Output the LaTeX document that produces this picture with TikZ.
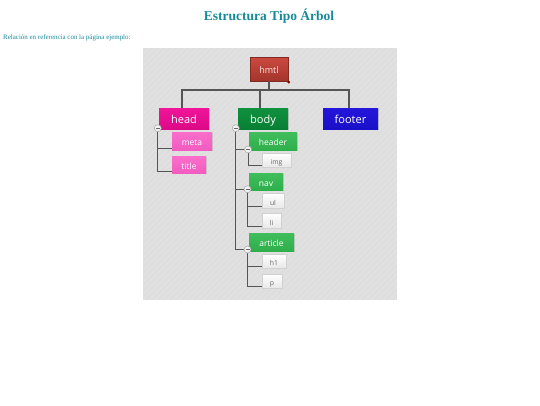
\documentclass[tikz,border=0pt]{standalone}
\usepackage{fontspec}
\setmainfont{Liberation Serif}
\newfontfamily\nodefont{Open Sans}
\usetikzlibrary{shadows}
\definecolor{teal1}{HTML}{178A98}
\definecolor{panel}{HTML}{DEDEDE}
\definecolor{linec}{HTML}{555555}
\definecolor{rootT}{HTML}{CC4A40}
\definecolor{rootB}{HTML}{A2342C}
\definecolor{headT}{HTML}{F0149A}
\definecolor{headB}{HTML}{DC0A86}
\definecolor{bodyT}{HTML}{10913E}
\definecolor{bodyB}{HTML}{087F34}
\definecolor{footT}{HTML}{2416DA}
\definecolor{footB}{HTML}{1A0FC8}
\definecolor{pinkT}{HTML}{FA6ECB}
\definecolor{pinkB}{HTML}{F25CC0}
\definecolor{grnT}{HTML}{40BE5C}
\definecolor{grnB}{HTML}{2FAE4C}
\tikzset{
  box/.style={rectangle, inner sep=0pt, font=\nodefont, text=white, text height=0.98em, text depth=0pt,
     drop shadow={shadow xshift=0.8pt, shadow yshift=-0.8pt, opacity=0.25}},
  rootbox/.style={box, draw=rootB!80!black, top color=rootT, bottom color=rootB, text=white!90!red, font=\nodefont\fontsize{9}{10}\selectfont},
  topbox/.style={box, font=\nodefont\fontsize{11}{13}\selectfont},
  midbox/.style={box, font=\nodefont\fontsize{8.5}{10}\selectfont},
  leafbox/.style={box, draw=black!18, top color=white, bottom color=black!9, text=black!60, font=\nodefont\fontsize{6.8}{8}\selectfont},
  conn/.style={draw=linec, line width=1.1pt},
  toggle/.style={circle, draw=black!35, fill=black!5, minimum size=7pt, inner sep=0pt, line width=0.5pt,
     path picture={\draw[black!60, line width=0.7pt] ([xshift=-2pt]path picture bounding box.center) -- ([xshift=2pt]path picture bounding box.center);}},
}
\begin{document}
\begin{tikzpicture}[x=1pt,y=-1pt]
\useasboundingbox (0,0) rectangle (540,405);
\fill[white] (0,0) rectangle (540,405);
% title texts
\node[font=\bfseries\fontsize{13.5}{16}\selectfont, text=teal1] (ttl) at (269,16.5) {Estructura Tipo Árbol};
\node[font=\fontsize{6.95}{8}\selectfont, text=teal1, anchor=west, inner sep=0pt] (sub) at (3,37.5) {Relación en referencia con la página ejemplo:};
% panel
\fill[panel] (143,48) rectangle (397,300);
\begin{scope}
\clip (143,48) rectangle (397,300);
\foreach \i in {0,6,...,520} {
  \draw[white, opacity=0.25, line width=0.4pt] (143+\i,48) -- (143+\i-260,308);
}
\end{scope}
% nodes
\node[rootbox, minimum width=38pt, minimum height=24pt] (hmtl) at (269,69) {hmtl};
\node[topbox, top color=headT, bottom color=headB, minimum width=50pt, minimum height=21pt] (head) at (184,118.5) {head};
\node[topbox, top color=bodyT, bottom color=bodyB, minimum width=50pt, minimum height=21pt] (body) at (263,118.5) {body};
\node[topbox, top color=footT, bottom color=footB, minimum width=55pt, minimum height=21pt] (footer) at (350.5,118.5) {footer};
\node[midbox, top color=pinkT, bottom color=pinkB, minimum width=40pt, minimum height=18pt] (meta) at (192,141) {meta};
\node[midbox, top color=pinkT, bottom color=pinkB, minimum width=34pt, minimum height=17pt] (title) at (189,164.5) {title};
\node[midbox, top color=grnT, bottom color=grnB, minimum width=48pt, minimum height=18pt] (header) at (273,141) {header};
\node[leafbox, minimum width=29pt, minimum height=14pt] (img) at (276.5,160) {img};
\node[midbox, top color=grnT, bottom color=grnB, minimum width=34pt, minimum height=17pt] (nav) at (266,181.5) {nav};
\node[leafbox, minimum width=22pt, minimum height=15pt] (ul) at (273,200.5) {ul};
\node[leafbox, minimum width=19pt, minimum height=15pt] (li) at (271.5,220.5) {li};
\node[midbox, top color=grnT, bottom color=grnB, minimum width=45pt, minimum height=18pt] (article) at (271.5,242) {article};
\node[leafbox, minimum width=24pt, minimum height=14pt] (h1) at (274,261) {h1};
\node[leafbox, minimum width=20pt, minimum height=14pt] (p) at (272,281) {p};
% root connectors
\coordinate (barY) at (0,90);
\draw[conn] (hmtl.south) -- (hmtl.south |- barY);
\draw[conn] ([xshift=-2pt]head.north) |- ([xshift=-1.5pt]footer.north |- barY) -- ([xshift=-1.5pt]footer.north);
\draw[conn] ([xshift=-3pt]body.north) -- ([xshift=-3pt]body.north |- barY);
\fill[red!50!black] ([xshift=0.5pt,yshift=-1pt]hmtl.south east) circle (1.5pt);
% toggles positions
\coordinate (tHead) at ([xshift=-1pt,yshift=1pt]head.south west);
\coordinate (tBody) at ([xshift=-2pt,yshift=1pt]body.south west);
\coordinate (tHeader) at ([xshift=-0.7pt,yshift=0.7pt]header.south west);
\coordinate (tNav) at ([xshift=-1.3pt,yshift=1pt]nav.south west);
\coordinate (tArticle) at ([xshift=-1.3pt,yshift=1.7pt]article.south west);
% child connectors
\draw[conn] (tHead) |- ([yshift=1.3pt]meta.south west);
\draw[conn] (tHead) |- ([yshift=1.3pt]title.south west);
\draw[conn] (tBody) |- ([yshift=0.7pt]header.south west);
\draw[conn] (tBody) |- ([yshift=1pt]nav.south west);
\draw[conn] (tBody) |- ([yshift=1.7pt]article.south west);
\draw[conn] (tHeader) |- ([yshift=1.3pt]img.south west);
\draw[conn] (tNav) |- ([yshift=1.3pt]ul.south west);
\draw[conn] (tNav) |- ([yshift=1.3pt]li.south west);
\draw[conn] (tArticle) |- ([yshift=1.3pt]h1.south west);
\draw[conn] (tArticle) |- ([yshift=1.3pt]p.south west);
% toggles
\node[toggle] (gHead) at (tHead) {};
\node[toggle] (gBody) at (tBody) {};
\node[toggle] (gHeader) at (tHeader) {};
\node[toggle] (gNav) at (tNav) {};
\node[toggle] (gArticle) at (tArticle) {};
\end{tikzpicture}
\end{document}
